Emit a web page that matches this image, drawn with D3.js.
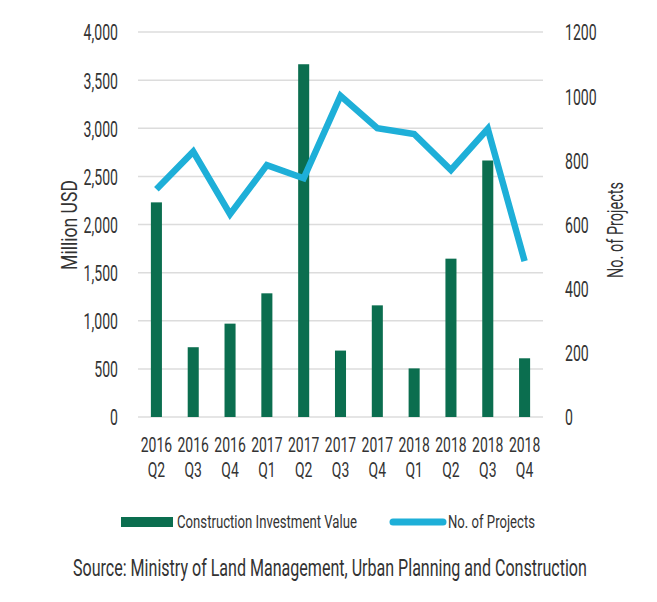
<!DOCTYPE html>
<html><head><meta charset="utf-8">
<script src="https://cdn.jsdelivr.net/npm/d3@7"></script>
<style>
html,body{margin:0;padding:0;background:#fff;}
text{font-family:Roboto,"Noto Sans",sans-serif;fill:#333;}
</style></head>
<body>
<svg id="chart" width="657" height="602"></svg>
<script>
const years = ["2016","2016","2016","2017","2017","2017","2017","2018","2018","2018","2018"];
const quarters = ["Q2","Q3","Q4","Q1","Q2","Q3","Q4","Q1","Q2","Q3","Q4"];
const investment = [2230, 725, 970, 1285, 3665, 690, 1160, 505, 1645, 2665, 610];
const projects = [710, 827, 632, 785, 744, 1001, 900, 882, 770, 898, 486];
const leftTicks = [0,500,1000,1500,2000,2500,3000,3500,4000];
const rightTicks = [0,200,400,600,800,1000,1200];
const seriesNames = ["Construction Investment Value","No. of Projects"];
const axisTitles = ["Million USD","No. of Projects"];
const sourceText = "Source: Ministry of Land Management, Urban Planning and Construction";

(function(){
const categories = years.map((y,i)=>y+" "+quarters[i]);
const svg = d3.select("#chart");
const pL = 138, pR = 543, pT = 32, pB = 417;
const green = "#0b6e4f", blue = "#1eafd8";
const K = 0.64; // horizontal condensation

// condense text horizontally with a scale transform, keeping its anchor point
function squeeze(node, width, anchor, kk){
  const t = d3.select(node);
  const w = node.getComputedTextLength();
  const k = width != null ? width / w : (kk || K);
  const x0 = +(t.attr("x")||0), y0 = +(t.attr("y")||0);
  t.attr("x",0).attr("y",0).attr("text-anchor",anchor)
   .attr("transform",`translate(${x0},${y0}) scale(${k},1)`);
}

const x = d3.scaleBand().domain(categories).range([pL,pR]).paddingInner(0.7).paddingOuter(0.35);
const yL = d3.scaleLinear().domain([0,4000]).range([pB,pT]);
const yR = d3.scaleLinear().domain([0,1200]).range([pB,pT]);

svg.append("g").selectAll("line").data(leftTicks).join("line")
  .attr("x1",pL).attr("x2",pR)
  .attr("y1",d=>yL(d)).attr("y2",d=>yL(d))
  .attr("stroke","#dcdcdc").attr("stroke-width",1.5);

const la = svg.append("g").attr("transform",`translate(${pL},0)`)
  .call(d3.axisLeft(yL).tickValues(leftTicks).tickSize(0).tickPadding(20).tickFormat(d3.format(",")));
la.select(".domain").remove();
la.selectAll("text").attr("font-size",22).attr("fill","#333").attr("font-family",null).attr("dy","0.36em")
  .each(function(){ squeeze(this,null,"end"); });

const ra = svg.append("g").attr("transform",`translate(${pR},0)`)
  .call(d3.axisRight(yR).tickValues(rightTicks).tickSize(0).tickPadding(22).tickFormat(d3.format("d")));
ra.select(".domain").remove();
ra.selectAll("text").attr("font-size",22).attr("fill","#333").attr("font-family",null).attr("dy","0.36em")
  .each(function(){ squeeze(this,null,"start"); });

svg.append("g").selectAll("rect").data(investment).join("rect")
  .attr("x",(d,i)=>x(categories[i])).attr("width",x.bandwidth())
  .attr("y",d=>yL(d)).attr("height",d=>pB-yL(d))
  .attr("fill",green);

const line = d3.line().x((d,i)=>x(categories[i])+x.bandwidth()/2).y(d=>yR(d));
svg.append("path").datum(projects).attr("d",line)
  .attr("fill","none").attr("stroke",blue).attr("stroke-width",6.5)
  .attr("stroke-linejoin","miter").attr("stroke-linecap","butt");

const xl = svg.append("g");
categories.forEach((c,i)=>{
  const cx = x(c)+x.bandwidth()/2;
  const a = xl.append("text").attr("x",cx).attr("y",452).attr("font-size",21).text(years[i]);
  squeeze(a.node(),null,"middle",0.665);
  const b = xl.append("text").attr("x",cx).attr("y",477).attr("font-size",21).text(quarters[i]);
  squeeze(b.node(),null,"middle",0.665);
});

const t1 = svg.append("g").attr("transform","translate(77,225) rotate(-90)")
  .append("text").attr("x",0).attr("y",0).attr("font-size",22).text(axisTitles[0]);
squeeze(t1.node(),90,"middle");
const t2 = svg.append("g").attr("transform","translate(623,230) rotate(-90)")
  .append("text").attr("x",0).attr("y",0).attr("font-size",22).text(axisTitles[1]);
squeeze(t2.node(),96,"middle");

svg.append("rect").attr("x",121).attr("y",517).attr("width",52).attr("height",10).attr("fill",green);
const l1 = svg.append("text").attr("x",177).attr("y",528).attr("font-size",18).text(seriesNames[0]);
squeeze(l1.node(),180,"start");
svg.append("line").attr("x1",393).attr("x2",443).attr("y1",522).attr("y2",522)
  .attr("stroke",blue).attr("stroke-width",7).attr("stroke-linecap","round");
const l2 = svg.append("text").attr("x",448).attr("y",528).attr("font-size",18).text(seriesNames[1]);
squeeze(l2.node(),87,"start");

const s = svg.append("text").attr("x",73).attr("y",576).attr("font-size",23).text(sourceText);
squeeze(s.node(),514,"start");
})();
</script>
</body></html>
